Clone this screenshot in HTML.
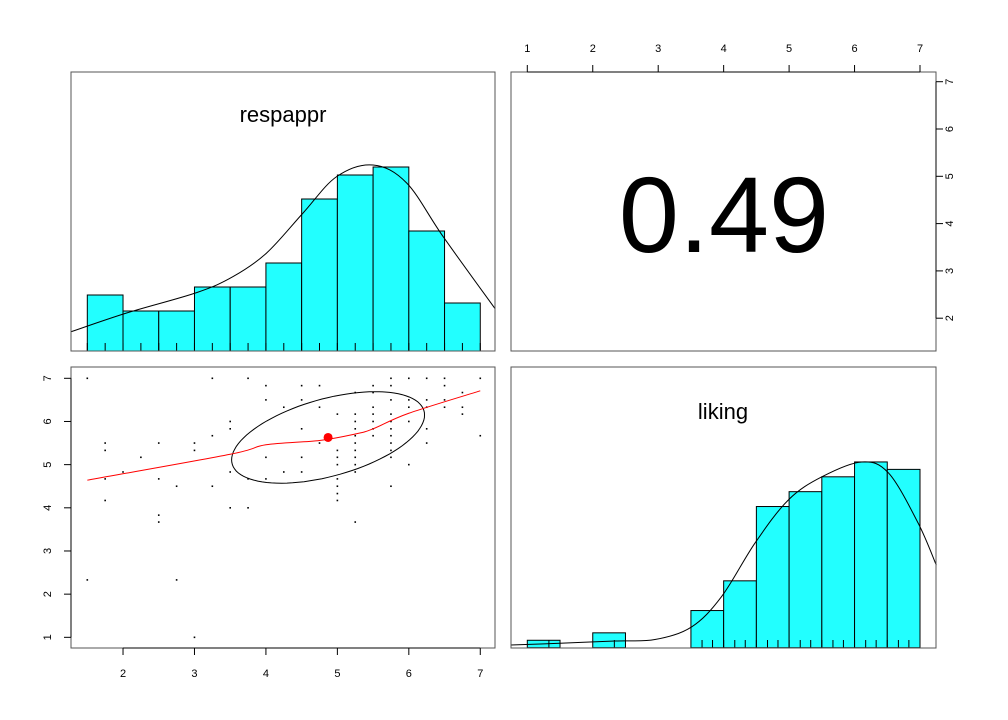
<!DOCTYPE html>
<html><head><meta charset="utf-8"><style>
html,body{margin:0;padding:0;background:#fff}
svg{display:block;font-family:"Liberation Sans",Arial,sans-serif}
</style></head><body>
<svg id="chart" width="1008" height="720" viewBox="0 0 1008 720" xmlns="http://www.w3.org/2000/svg">
<rect x="0" y="0" width="1008" height="720" fill="#fff"/>
<g id="g-hist1"></g>
<g id="g-corr"></g>
<g id="g-scatter"></g>
<g id="g-hist2"></g>
</svg>
<script>
// respappr histogram
const h1Edges = [1.5,2,2.5,3,3.5,4,4.5,5,5.5,6,6.5,7];
const h1Counts = [7,5,5,8,8,11,19,22,23,15,6];
const h1CurveX = [1.27,2.05,3.03,3.54,4.01,4.52,4.99,5.5,5.97,6.48,7.21];
const h1CurveY = [2.4,4.75,7.3,9.3,12.25,17.25,21.8,23.25,21,14.3,5.25];
const h1Rug = [1.5,1.75,2,2.25,2.5,2.75,3,3.25,3.5,3.75,4,4.25,4.5,4.75,5,5.25,5.5,5.75,6,6.25,6.5,6.75,7];
// liking histogram
const h2Edges = [1,1.5,2,2.5,3,3.5,4,4.5,5,5.5,6,6.5,7];
const h2Counts = [1,0,2,0,0,5,9,19,21,23,25,24];
const h2CurveX = [0.75,1.5,2.34,2.95,3.51,3.97,4.48,4.99,5.5,6.11,6.52,6.97,7.25];
const h2CurveY = [0.36,0.6,0.9,1.1,2.8,6.9,14.1,19.9,23,25,23.5,16.8,11.1];
const h2Rug = [1.33,2.33,3.67,3.83,4,4.17,4.33,4.5,4.67,4.83,5,5.17,5.33,5.5,5.67,5.83,6,6.17,6.33,6.5,6.67,6.83];
// scatter
const sx = [1.5,3.25,3.75,5.75,6,6.25,6.5,7, 4,4.5,4.75,5.5,5.75,6.5, 5.25,5.5,6.75, 4,4.5,5.75,6,6.25,6.5, 4.25,4.75,5.5,6,6.25,6.5,6.75, 5,5.25,5.5,5.75,6.75, 3.5,5.25,5.5,5.75,6, 3.5,4.5,5.25,5.5,5.75,6.25, 3.25,5.25,5.5,5.75,7, 1.75,2.5,3,4.75,5.25,5.75,6.25, 1.75,3,5,5.25,5.75, 2.25,4,4.5,5,5.25,5.75, 5,5.25,6, 2,3.5,4.25,4.5,5.25, 1.75,2.5,3.75,4,5, 2.75,3.25,5,5.75, 5, 1.75,5, 3.5,3.75, 2.5,2.5,5.25, 1.5,2.75, 3];
const sy = [7,7,7,7,7,7,7,7, 6.83,6.83,6.83,6.83,6.83,6.83, 6.67,6.67,6.67, 6.5,6.5,6.5,6.5,6.5,6.5, 6.33,6.33,6.33,6.33,6.33,6.33,6.33, 6.17,6.17,6.17,6.17,6.17, 6,6,6,6,6, 5.83,5.83,5.83,5.83,5.83,5.83, 5.67,5.67,5.67,5.67,5.67, 5.5,5.5,5.5,5.5,5.5,5.5,5.5, 5.33,5.33,5.33,5.33,5.33, 5.17,5.17,5.17,5.17,5.17,5.17, 5,5,5, 4.83,4.83,4.83,4.83,4.83, 4.67,4.67,4.67,4.67,4.67, 4.5,4.5,4.5,4.5, 4.33, 4.17,4.17, 4,4, 3.83,3.67,3.67, 2.33,2.33, 1];
const loessX = [1.5,3.5,4,4.75,5.25,5.5,6,7];
const loessY = [4.64,5.24,5.46,5.56,5.71,5.83,6.19,6.71];
const meanX = 4.87, meanY = 5.63, sdX = 1.35, sdY = 1.06, corr = 0.49;
const tick1 = [2,3,4,5,6,7];
const tickY = [1,2,3,4,5,6,7];
const tickTop = [1,2,3,4,5,6,7];
const tickRight = [2,3,4,5,6,7];

const NS = "http://www.w3.org/2000/svg";
function mk(parent, tag, attrs){const e=document.createElementNS(NS,tag);for(const k in attrs)e.setAttribute(k,attrs[k]);parent.appendChild(e);return e;}
function smooth(pts){let d="M"+pts[0][0]+","+pts[0][1];for(let i=0;i<pts.length-1;i++){const p0=pts[Math.max(0,i-1)],p1=pts[i],p2=pts[i+1],p3=pts[Math.min(pts.length-1,i+2)];const c1=[p1[0]+(p2[0]-p0[0])/6,p1[1]+(p2[1]-p0[1])/6],c2=[p2[0]-(p3[0]-p1[0])/6,p2[1]-(p3[1]-p1[1])/6];d+=" C"+c1+" "+c2+" "+p2;}return d;}

const X1 = v => 87.3 + (v-1.5)*71.45;
const X2 = v => 527.3 + (v-1)*65.45;
const Ys = v => 378.3 + (7-v)*43.17;
const Yh1 = c => 351 - c*8;
const Yh2 = c => 647.7 - c*7.43;
const Yr = v => 81.7 + (7-v)*47.3;

const g1 = document.getElementById('g-hist1');
h1Counts.forEach((c,i)=>{
  const r = mk(g1,'rect',{x:X1(h1Edges[i]),y:Yh1(c),width:X1(h1Edges[i+1])-X1(h1Edges[i]),height:351-Yh1(c),fill:'#22ffff',stroke:'#000','stroke-width':1});
  
  
});
h1Rug.forEach(v=>{const l=mk(g1,'line',{x1:X1(v),x2:X1(v),y1:351,y2:343,stroke:'#000','stroke-width':1});
  
  });
{const p=mk(g1,'path',{d:smooth(h1CurveX.map((x,i)=>[X1(x),Yh1(h1CurveY[i])])),fill:'none',stroke:'#000','stroke-width':1});
 
 }
{const b=mk(g1,'rect',{x:71,y:72,width:424,height:279,fill:'none',stroke:'#555','stroke-width':1});
 
 }
{const t=mk(g1,'text',{x:283,y:122,'font-size':22,'text-anchor':'middle',fill:'#000'});t.textContent='respappr';
 
 }

const g2 = document.getElementById('g-corr');
{const b=mk(g2,'rect',{x:511,y:72,width:425,height:279,fill:'none',stroke:'#555','stroke-width':1});
 
 }
{const t=mk(g2,'text',{x:724,y:252,'font-size':108,'text-anchor':'middle',fill:'#000'});t.textContent=corr.toFixed(2);
 
 }
mk(g2,'line',{x1:X2(1),x2:X2(7),y1:72,y2:72,stroke:'#000'});
tickTop.forEach(v=>{mk(g2,'line',{x1:X2(v),x2:X2(v),y1:72,y2:65,stroke:'#000'});
  const t=mk(g2,'text',{x:X2(v),y:52,'font-size':11,'text-anchor':'middle'});t.textContent=v;
  
  });
mk(g2,'line',{x1:936,x2:936,y1:Yr(7),y2:Yr(2),stroke:'#000'});
tickRight.forEach(v=>{mk(g2,'line',{x1:936,x2:943,y1:Yr(v),y2:Yr(v),stroke:'#000'});
  const t=mk(g2,'text',{x:0,y:0,'font-size':11,'text-anchor':'middle',transform:`translate(953,${Yr(v)}) rotate(-90)`});t.textContent=v;
  
  });

const g3 = document.getElementById('g-scatter');
sx.forEach((x,i)=>{const r=mk(g3,'rect',{x:X1(x)-0.8,y:Ys(sy[i])-0.8,width:1.6,height:1.6,fill:'#000'});
  
  });
{let d="";const dd=Math.acos(corr);for(let k=0;k<=100;k++){const t=k/100*2*Math.PI;const x=meanX+sdX*Math.cos(t),y=meanY+sdY*Math.cos(t+dd);d+=(k?"L":"M")+X1(x).toFixed(1)+","+Ys(y).toFixed(1);}
 const e=mk(g3,'path',{d:d+"Z",fill:'none',stroke:'#000','stroke-width':1});
 
 }
{const p=mk(g3,'path',{d:smooth(loessX.map((x,i)=>[X1(x),Ys(loessY[i])])),fill:'none',stroke:'#ff0000','stroke-width':1});
 
 }
{const c=mk(g3,'circle',{cx:X1(meanX),cy:Ys(meanY),r:4.5,fill:'#ff0000'});
 
 }
{const b=mk(g3,'rect',{x:71,y:367,width:424,height:281,fill:'none',stroke:'#555','stroke-width':1});
 
 }
mk(g3,'line',{x1:X1(2),x2:X1(7),y1:648,y2:648,stroke:'#000'});
tick1.forEach(v=>{mk(g3,'line',{x1:X1(v),x2:X1(v),y1:648,y2:655,stroke:'#000'});
  const t=mk(g3,'text',{x:X1(v),y:677,'font-size':11,'text-anchor':'middle'});t.textContent=v;
  
  });
mk(g3,'line',{x1:71,x2:71,y1:Ys(1),y2:Ys(7),stroke:'#000'});
tickY.forEach(v=>{mk(g3,'line',{x1:64,x2:71,y1:Ys(v),y2:Ys(v),stroke:'#000'});
  const t=mk(g3,'text',{x:0,y:0,'font-size':11,'text-anchor':'middle',transform:`translate(51,${Ys(v)}) rotate(-90)`});t.textContent=v;
  
  });

const g4 = document.getElementById('g-hist2');
h2Counts.forEach((c,i)=>{if(!c)return;
  const r=mk(g4,'rect',{x:X2(h2Edges[i]),y:Yh2(c),width:X2(h2Edges[i+1])-X2(h2Edges[i]),height:647.7-Yh2(c),fill:'#22ffff',stroke:'#000','stroke-width':1});
  
  });
h2Rug.forEach(v=>{const l=mk(g4,'line',{x1:X2(v),x2:X2(v),y1:648,y2:640,stroke:'#000','stroke-width':1});
  
  });
{const p=mk(g4,'path',{d:smooth(h2CurveX.map((x,i)=>[X2(x),Yh2(h2CurveY[i])])),fill:'none',stroke:'#000','stroke-width':1});
 
 }
{const b=mk(g4,'rect',{x:511,y:367,width:425,height:281,fill:'none',stroke:'#555','stroke-width':1});
 
 }
{const t=mk(g4,'text',{x:723,y:419,'font-size':22,'text-anchor':'middle'});t.textContent='liking';
 
 }
</script>
</body></html>
